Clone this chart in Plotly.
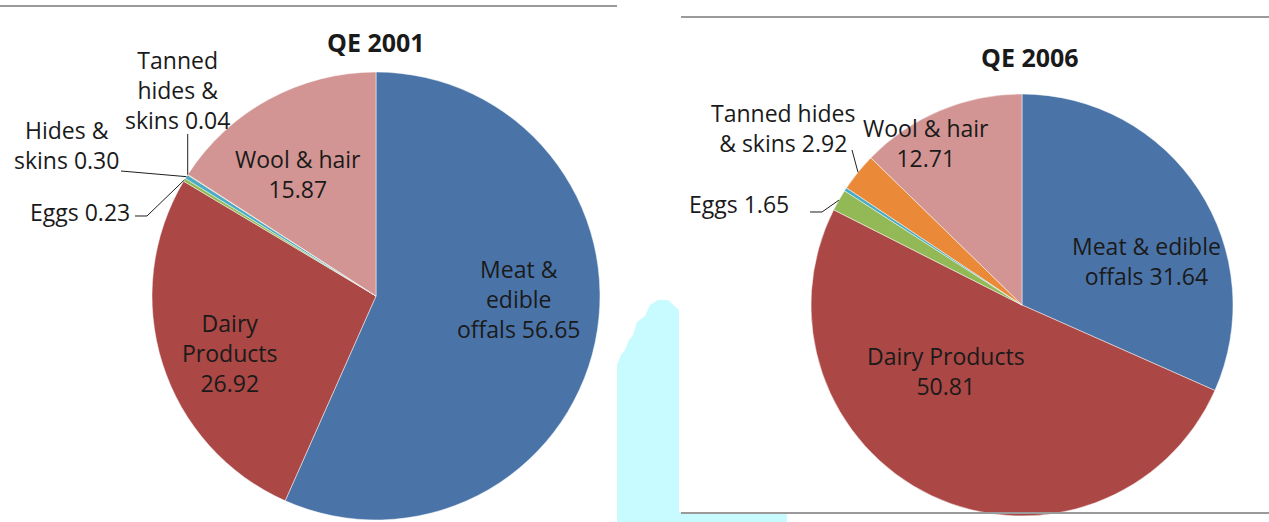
import math
import plotly.graph_objects as go

W, H = 1269, 522

categories = ["Meat & edible offals", "Dairy Products", "Eggs", "Hides & skins",
              "Tanned hides & skins", "Wool & hair"]
values_2001 = [56.65, 26.92, 0.23, 0.30, 0.04, 15.87]
values_2006 = [31.64, 50.81, 1.65, 0.27, 2.92, 12.71]
titles = ["QE 2001", "QE 2006"]

colors = ["#4a74a8", "#ab4744", "#93b956", "#4aabc4", "#ea8a38", "#d29593"]

FONT = "'Open Sans', Lato, sans-serif"
TXT = "#1a1a1a"

# pie geometry (pixels): centre x, centre y, radius
geo = [(376, 296, 224), (1022, 305, 211)]


def px(x):
    return x / W


def py(y):
    return 1 - y / H


def edge_point(vals, idx, g, frac=1.0):
    cx, cy, r = g
    tot = sum(vals)
    start = sum(vals[:idx]) / tot
    mid = (start + vals[idx] / tot / 2) * 2 * math.pi
    return cx + r * frac * math.sin(mid), cy - r * frac * math.cos(mid)


fig = go.Figure()
for vals, g, name in zip([values_2001, values_2006], geo, titles):
    cx, cy, r = g
    fig.add_trace(go.Pie(
        labels=categories, values=vals, name=name,
        sort=False, direction="clockwise", rotation=0,
        marker=dict(colors=colors, line=dict(color="rgba(255,255,255,0.6)", width=0.8)),
        textinfo="none", hoverinfo="label+value", showlegend=False,
        domain=dict(x=[px(cx - r), px(cx + r)], y=[py(cy + r), py(cy - r)]),
    ))

ann = []


def label(text, x, y, size=23, bold=False):
    ann.append(dict(text=f"<b>{text}</b>" if bold else text, x=px(x), y=py(y),
                    xref="paper", yref="paper", showarrow=False,
                    xanchor="center", yanchor="middle",
                    font=dict(family=FONT, size=size, color=TXT)))


def fmt(v):
    return f"{v:.2f}"


# QE 2001
v = values_2001
label(titles[0], 376, 42, size=25, bold=True)
label(f"Tanned<br>hides &<br>skins {fmt(v[4])}", 177, 90)
label(f"Hides &<br>skins {fmt(v[3])}", 66, 145)
label(f"Eggs {fmt(v[2])}", 80, 212)
label(f"Wool & hair<br>{fmt(v[5])}", 298, 174)
label(f"Meat &<br>edible<br>offals {fmt(v[0])}", 518, 299)
label(f"Dairy<br>Products<br>{fmt(v[1])}", 229, 353)

# QE 2006
v = values_2006
label(titles[1], 1030, 57, size=25, bold=True)
label(f"Tanned hides<br>& skins {fmt(v[4])}", 783, 128)
label(f"Wool & hair<br>{fmt(v[5])}", 926, 143)
label(f"Eggs {fmt(v[2])}", 739, 204)
label(f"Meat & edible<br>offals {fmt(v[0])}", 1146, 261)
label(f"Dairy Products<br>{fmt(v[1])}", 946, 371)

shapes = []


def path(points, **kw):
    d = "M " + " L ".join(f"{px(x):.5f},{py(y):.5f}" for x, y in points)
    shapes.append(dict(type="path", path=d, xref="paper", yref="paper", **kw))


# cyan artefact behind
path([(617, 522), (617, 365), (621, 355), (625, 350), (629, 340), (633, 335),
      (637, 322), (645, 316), (650, 305), (658, 300), (668, 300), (679, 310),
      (679, 512), (787, 512), (787, 522)],
     fillcolor="#c8fbff", line=dict(width=0), layer="below")

# frame lines
grey = dict(color="#9a9a9a", width=2)
path([(0, 6), (617, 6)], line=grey)
path([(681, 17), (1269, 17)], line=grey)
path([(681, 513), (1269, 513)], line=grey)

# leader lines
lead = dict(color="#202020", width=1)
hx, hy = edge_point(values_2001, 4, geo[0])
path([(hx, 134), (hx, hy)], line=lead)
hx, hy = edge_point(values_2001, 3, geo[0])
path([(121, 171), (hx, hy)], line=lead)
hx, hy = edge_point(values_2001, 2, geo[0])
path([(135, 216), (147, 216), (hx, hy)], line=lead)
hx, hy = edge_point(values_2006, 4, geo[1])
path([(852, 150), (hx, hy)], line=lead)
hx, hy = edge_point(values_2006, 2, geo[1])
path([(810, 212), (822, 212), (hx, hy)], line=lead)

fig.update_layout(
    width=W, height=H, autosize=False,
    margin=dict(l=0, r=0, t=0, b=0),
    paper_bgcolor="white", plot_bgcolor="white",
    annotations=ann, shapes=shapes,
    font=dict(family=FONT, color=TXT),
)

fig.write_html("out.html", config={"displayModeBar": False},
               post_script="document.body.style.margin='0';")
